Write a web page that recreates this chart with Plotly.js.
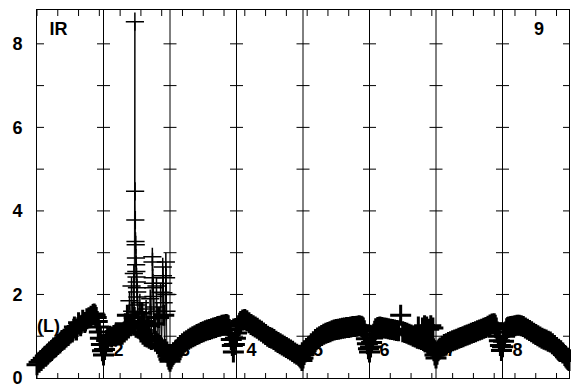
<!DOCTYPE html>
<html><head><meta charset="utf-8">
<script src="https://cdn.plot.ly/plotly-3.0.1.min.js"></script>
<style>html,body{margin:0;padding:0;background:#fff}#chart{width:571px;height:386px}</style>
</head><body><div id="chart"></div>
<script>
// Segment boundaries (x, in bottom-tick units) and their labels
const boundaries = [3.2, 6.4, 9.6, 12.8, 16.0, 19.2, 22.4];
const segmentLabels = ['2', '3', '4', '5', '6', '7', '8'];
const gridYValues = [1, 2, 3, 4, 5, 6, 7, 8];
const xTickValues = [0,1,2,3,4,5,6,7,8,9,10,11,12,13,14,15,16,17,18,19,20,21,22,23,24,25];
const yTickLabels = ['0', '2', '4', '6', '8'];

// Data, per segment: [x, value]
const seg1 = [[0.0,0.32],[0.1,0.38],[0.2,0.42],[0.3,0.47],[0.4,0.52],[0.5,0.57],[0.6,0.62],[0.7,0.66],[0.8,0.72],[0.9,0.75],[1.0,0.80],[1.1,0.84],[1.2,0.90],[1.3,0.93],[1.4,0.98],[1.5,1.02],[1.6,1.08],[1.7,1.10],[1.8,1.22],[1.9,1.15],[2.0,1.32],[2.1,1.25],[2.2,1.38],[2.3,1.33],[2.4,1.42],[2.5,1.44],[2.6,1.48],[2.7,1.52],[2.75,1.53],[2.8,1.50],[2.85,1.45],[2.9,1.35],[2.95,1.22],[3.0,1.10],[3.05,0.95],[3.1,0.80],[3.15,0.65]];
const seg2 = [[3.2,0.55],[3.25,0.68],[3.3,0.80],[3.35,0.90],[3.4,0.95],[3.5,1.00],[3.6,0.98],[3.7,1.02],[3.8,1.05],[3.9,1.03],[4.0,1.06],[4.1,1.05],[4.2,1.10],[4.25,1.30],[4.3,1.15],[4.35,1.50],[4.4,1.20],[4.45,1.85],[4.5,1.25],[4.55,2.20],[4.58,1.60],[4.62,1.30],[4.66,2.50],[4.68,1.45],[4.71,8.53],[4.72,4.47],[4.73,3.78],[4.74,3.27],[4.75,3.19],[4.76,2.87],[4.77,2.71],[4.78,2.55],[4.79,2.42],[4.80,2.30],[4.81,2.16],[4.82,2.06],[4.83,1.94],[4.84,1.75],[4.85,1.58],[4.87,1.35],[4.9,1.20],[4.95,1.80],[5.0,1.10],[5.05,1.55],[5.1,1.05],[5.15,1.35],[5.2,1.00],[5.25,1.65],[5.3,0.98],[5.35,1.25],[5.4,0.95],[5.45,1.90],[5.5,0.92],[5.55,2.90],[5.56,2.78],[5.57,2.40],[5.58,2.27],[5.59,2.16],[5.6,1.95],[5.62,1.70],[5.65,1.30],[5.7,0.88],[5.75,2.20],[5.77,1.60],[5.8,0.82],[5.85,1.45],[5.9,0.78],[5.95,2.05],[6.0,0.72],[6.05,2.66],[6.06,2.45],[6.07,2.27],[6.08,2.04],[6.09,1.80],[6.1,1.50],[6.15,0.68],[6.2,2.78],[6.21,2.40],[6.22,2.00],[6.23,1.60],[6.25,0.62],[6.3,0.52],[6.35,0.45]];
const seg3 = [[6.4,0.40],[6.45,0.46],[6.5,0.52],[6.55,0.56],[6.6,0.60],[6.7,0.67],[6.8,0.73],[6.9,0.78],[7.0,0.82],[7.1,0.86],[7.2,0.89],[7.3,0.93],[7.4,0.96],[7.5,0.99],[7.6,1.01],[7.7,1.04],[7.8,1.06],[7.9,1.09],[8.0,1.11],[8.1,1.13],[8.2,1.15],[8.3,1.16],[8.4,1.18],[8.5,1.20],[8.6,1.21],[8.7,1.23],[8.8,1.24],[8.9,1.26],[9.0,1.27],[9.1,1.28],[9.15,1.27],[9.2,1.25],[9.25,1.16],[9.3,1.05],[9.35,0.92],[9.4,0.78],[9.45,0.62],[9.5,0.80],[9.55,0.95]];
const seg4 = [[9.6,1.08],[9.65,1.18],[9.7,1.25],[9.75,1.31],[9.8,1.35],[9.9,1.39],[10.0,1.40],[10.1,1.37],[10.2,1.32],[10.3,1.28],[10.4,1.25],[10.5,1.22],[10.6,1.19],[10.7,1.15],[10.8,1.12],[10.9,1.08],[11.0,1.04],[11.1,1.00],[11.2,0.97],[11.3,0.95],[11.4,0.92],[11.5,0.88],[11.6,0.85],[11.7,0.82],[11.8,0.79],[11.9,0.76],[12.0,0.73],[12.1,0.70],[12.2,0.67],[12.3,0.64],[12.4,0.60],[12.5,0.57],[12.6,0.54],[12.65,0.51],[12.7,0.48],[12.75,0.42]];
const seg5 = [[12.8,0.48],[12.85,0.56],[12.9,0.62],[12.95,0.66],[13.0,0.70],[13.1,0.76],[13.2,0.82],[13.3,0.87],[13.4,0.92],[13.5,0.96],[13.6,0.99],[13.7,1.02],[13.8,1.05],[13.9,1.07],[14.0,1.09],[14.1,1.11],[14.2,1.13],[14.3,1.15],[14.4,1.16],[14.5,1.17],[14.6,1.18],[14.7,1.19],[14.8,1.20],[14.9,1.21],[15.0,1.21],[15.1,1.22],[15.2,1.23],[15.3,1.23],[15.4,1.24],[15.5,1.25],[15.6,1.24],[15.65,1.22],[15.7,1.20],[15.75,1.13],[15.8,1.05],[15.85,0.94],[15.9,0.82],[15.95,0.70]];
const seg6 = [[16.0,0.62],[16.05,0.74],[16.1,0.85],[16.15,0.96],[16.2,1.05],[16.25,1.12],[16.3,1.18],[16.4,1.21],[16.5,1.22],[16.6,1.21],[16.7,1.20],[16.8,1.19],[16.9,1.18],[17.0,1.17],[17.1,1.16],[17.2,1.15],[17.3,1.14],[17.4,1.13],[17.5,1.50],[17.6,1.11],[17.7,1.09],[17.8,1.07],[17.9,1.05],[18.0,1.03],[18.1,1.00],[18.2,0.98],[18.3,0.95],[18.35,1.22],[18.4,0.94],[18.5,0.92],[18.55,1.20],[18.6,0.90],[18.65,1.25],[18.7,0.87],[18.75,1.22],[18.8,0.84],[18.85,1.17],[18.9,0.80],[18.95,1.25],[19.0,0.76],[19.05,1.20],[19.08,0.70],[19.1,0.65],[19.15,0.55]];
const seg7 = [[19.2,0.48],[19.25,0.57],[19.3,0.65],[19.35,0.69],[19.4,0.72],[19.5,0.76],[19.6,0.80],[19.7,0.82],[19.8,0.85],[19.9,0.87],[20.0,0.89],[20.1,0.91],[20.2,0.93],[20.3,0.95],[20.4,0.97],[20.5,0.99],[20.6,1.01],[20.7,1.03],[20.8,1.05],[20.9,1.07],[21.0,1.09],[21.1,1.11],[21.2,1.13],[21.3,1.15],[21.4,1.17],[21.5,1.19],[21.6,1.21],[21.7,1.24],[21.8,1.27],[21.9,1.29],[22.0,1.30],[22.05,1.26],[22.1,1.20],[22.15,1.10],[22.2,1.00],[22.25,0.89],[22.3,0.78],[22.35,0.66]];
const seg8 = [[22.4,0.75],[22.45,0.88],[22.5,1.00],[22.55,1.10],[22.6,1.18],[22.65,1.21],[22.7,1.22],[22.8,1.23],[22.9,1.24],[23.0,1.25],[23.1,1.26],[23.2,1.26],[23.3,1.25],[23.4,1.23],[23.5,1.20],[23.6,1.17],[23.7,1.14],[23.8,1.11],[23.9,1.07],[24.0,1.04],[24.1,1.01],[24.2,0.98],[24.3,0.95],[24.4,0.93],[24.5,0.91],[24.6,0.88],[24.7,0.86],[24.8,0.82],[24.9,0.78],[25.0,0.73],[25.1,0.69],[25.2,0.65],[25.3,0.60],[25.4,0.54],[25.45,0.50],[25.5,0.47],[25.55,0.44],[25.6,0.42]];

const FONT = 'Liberation Sans, Arial, sans-serif';
const all = [].concat(seg1, seg2, seg3, seg4, seg5, seg6, seg7, seg8);
const xs = all.map(p => p[0]);
const ys = all.map(p => p[1]);
// the dense band (readings up to 1.55) is overdrawn with heavy crosses
const band = all.filter(p => p[1] <= 1.55);

const traces = [
  { type: 'scatter', mode: 'text', cliponaxis: false, hoverinfo: 'skip',
    x: boundaries.map(b => b + 0.72).concat([1.03, 24.16, 0.55]),
    y: boundaries.map(() => 0.635).concat([8.32, 8.32, 1.22]),
    text: segmentLabels.concat(['IR', '9', '(L)']),
    textposition: 'middle center',
    textfont: { family: FONT, size: 18, color: 'black', weight: 'bold' } },
  { type: 'scatter', mode: 'lines+markers', x: xs, y: ys, cliponaxis: false,
    line: { color: 'black', width: 1, simplify: false },
    marker: { symbol: 'cross-thin', size: 13, color: 'black', line: { width: 1.5, color: 'black' } } },
  { type: 'scatter', mode: 'markers', x: band.map(p => p[0]), y: band.map(p => p[1]), cliponaxis: false,
    marker: { symbol: 'cross-thin', size: 15, color: 'black', line: { width: 3, color: 'black' } } }
];

const K = { color: 'black', width: 1 };
const shapes = [];
// vertical segment lines
boundaries.forEach(b => shapes.push({ type: 'line', xref: 'x', yref: 'paper', x0: b, x1: b, y0: 0, y1: 1, line: K, layer: 'below' }));
// crosses on the vertical lines
boundaries.forEach(b => gridYValues.forEach(v => shapes.push({
  type: 'line', xref: 'x', yref: 'y', xsizemode: 'pixel', xanchor: b, x0: -6.5, x1: 6.5, y0: v, y1: v, line: K, layer: 'below' })));
// left / right axis ticks
gridYValues.forEach(v => {
  shapes.push({ type: 'line', xref: 'paper', yref: 'y', xsizemode: 'pixel', xanchor: 0, x0: 0, x1: 7, y0: v, y1: v, line: K });
  shapes.push({ type: 'line', xref: 'paper', yref: 'y', xsizemode: 'pixel', xanchor: 1, x0: -6, x1: 0, y0: v, y1: v, line: K });
});
// bottom / top ticks
xTickValues.forEach(t => {
  shapes.push({ type: 'line', xref: 'x', yref: 'paper', ysizemode: 'pixel', yanchor: 0, y0: 0, y1: 5, x0: t, x1: t, line: K });
  shapes.push({ type: 'line', xref: 'x', yref: 'paper', ysizemode: 'pixel', yanchor: 1, y0: -6, y1: 0, x0: t, x1: t, line: K });
});

const layout = {
  width: 571, height: 386,
  margin: { l: 37, r: 2, t: 10, b: 8 },
  paper_bgcolor: 'white', plot_bgcolor: 'white',
  showlegend: false,
  shapes: shapes,
  xaxis: { range: [0, 25.6], showticklabels: false, ticks: '', showline: true, linecolor: 'black', linewidth: 1,
    mirror: true, showgrid: false, zeroline: false },
  yaxis: { range: [0, 8.81], tickmode: 'array', tickvals: [0, 2, 4, 6, 8], ticktext: yTickLabels, ticks: '',
    showline: true, linecolor: 'black', linewidth: 1, mirror: true,
    showgrid: false, zeroline: false, ticklabelstandoff: 10, ticklabeloverflow: 'allow',
    tickfont: { family: FONT, size: 18, color: 'black', weight: 'bold' } }
};

Plotly.newPlot('chart', traces, layout, { staticPlot: true, displayModeBar: false });
</script></body></html>
